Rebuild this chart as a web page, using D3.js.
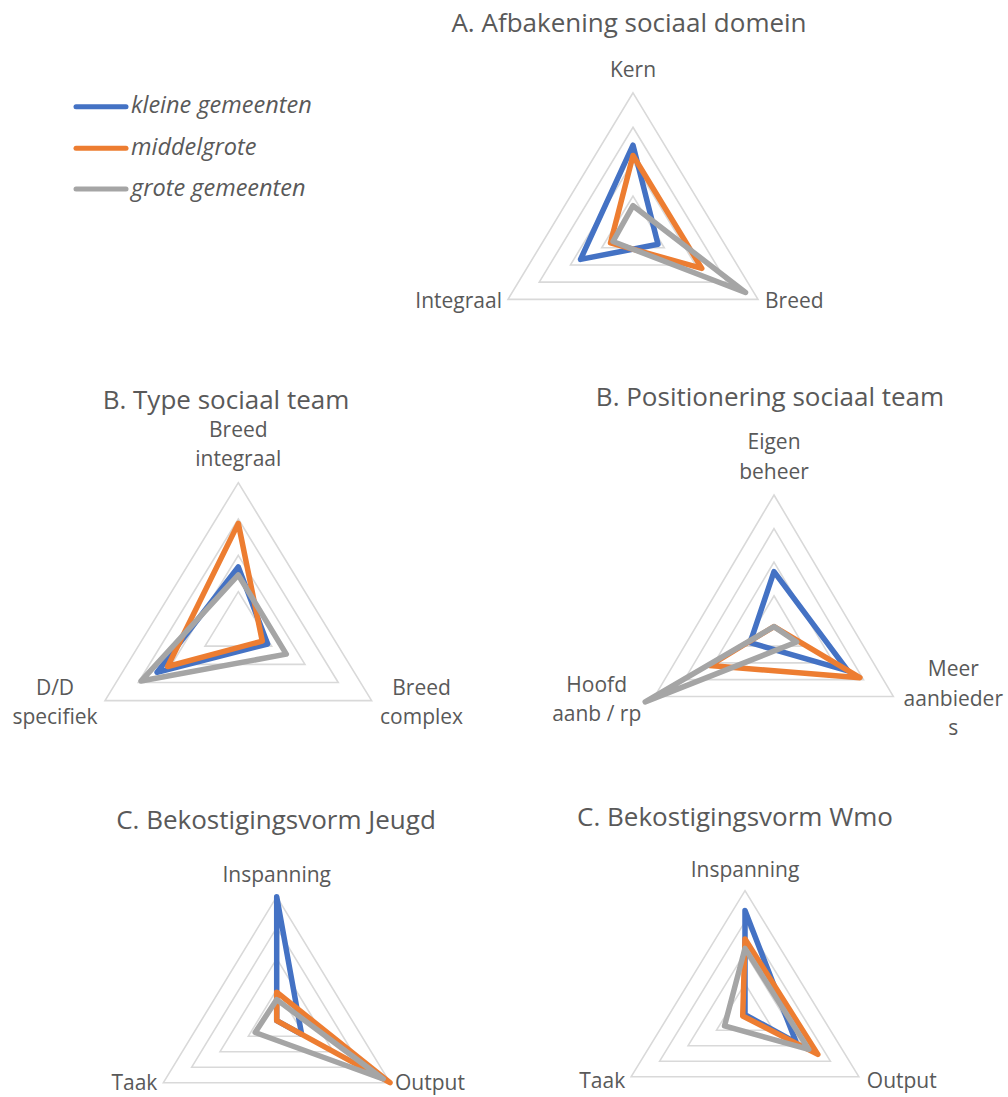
<!DOCTYPE html>
<html>
<head>
<meta charset="utf-8">
<script src="https://cdn.jsdelivr.net/npm/d3@7/dist/d3.min.js"></script>
<style>
  html, body { margin: 0; padding: 0; background: #ffffff; }
  svg { display: block; }
  text { font-family: "Open Sans", "Noto Sans", sans-serif; fill: #595959; }
</style>
</head>
<body>
<svg id="chart" width="1008" height="1097"></svg>
<script>
// ---------- DATA ----------
const seriesNames = ["kleine gemeenten", "middelgrote", "grote gemeenten"];
const chartTitles = [
  "A. Afbakening sociaal domein",
  "B. Type sociaal team",
  "B. Positionering sociaal team",
  "C. Bekostigingsvorm Jeugd",
  "C. Bekostigingsvorm Wmo"
];
// axis order per chart: top, bottom-right, bottom-left (each label may wrap into lines)
const axisLabels = [
  [["Kern"], ["Breed"], ["Integraal"]],
  [["Breed", "integraal"], ["Breed", "complex"], ["D/D", "specifiek"]],
  [["Eigen", "beheer"], ["Meer", "aanbieder", "s"], ["Hoofd", "aanb / rp"]],
  [["Inspanning"], ["Output"], ["Taak"]],
  [["Inspanning"], ["Output"], ["Taak"]]
];
// values as share of the outer ring (0 = centre, 1 = outer ring)
const kleineValues      = [[0.62, 0.20, 0.42], [0.42, 0.22, 0.61], [0.43, 0.62, 0.20], [1.00, 0.22, 0.00], [0.84, 0.45, 0.00]];
const middelgroteValues = [[0.545, 0.55, 0.18], [0.72, 0.18, 0.53], [0.02, 0.72, 0.54], [0.23, 1.00, 0.00], [0.61, 0.64, 0.02]];
const groteValues       = [[0.18, 0.90, 0.16], [0.365, 0.36, 0.73], [0.02, 0.19, 1.08], [0.17, 0.94, 0.19], [0.535, 0.56, 0.18]];
const ringTicks = [0.25, 0.5, 0.75, 1];

// ---------- LAYOUT / STYLE ----------
const seriesColors = ["#4472C4", "#ED7D31", "#A5A5A5"];
const seriesValues = [kleineValues, middelgroteValues, groteValues];
const layouts = [
  { cx: 633,   cy: 230.5,  R: 137.7, half: 125,   title: [629, 31.5],
    lab: [{dx: 0, dy: -16, a: "middle"}, {dx: 7, dy: 9, a: "start"}, {dx: -6, dy: 9, a: "end"}] },
  { cx: 238.3, cy: 628,    R: 145.3, half: 133.3, title: [226, 409],
    lab: [{dx: 0, dy: -46, a: "middle"}, {dx: 50, dy: -6, a: "middle"}, {dx: -50, dy: -6, a: "middle"}] },
  { cx: 774,   cy: 629.3,  R: 134.3, half: 119.3, title: [770, 406],
    lab: [{dx: 0, dy: -46, a: "middle"}, {dx: 60, dy: -20, a: "middle"}, {dx: -58, dy: -4.5, a: "middle"}] },
  { cx: 276.7, cy: 1020.7, R: 124,   half: 113.3, title: [276, 829],
    lab: [{dx: 0, dy: -15, a: "middle"}, {dx: 5, dy: 7, a: "start"}, {dx: -6, dy: 7, a: "end"}] },
  { cx: 745,   cy: 1014.7, R: 124,   half: 113.8, title: [735, 826],
    lab: [{dx: 0, dy: -14, a: "middle"}, {dx: 8, dy: 11, a: "start"}, {dx: -6, dy: 11, a: "end"}] }
];
const lineHeight = 29.5;
const angles = [0, 2 * Math.PI / 3, 4 * Math.PI / 3];

const svg = d3.select("#chart");

chartTitles.forEach((title, ci) => {
  const L = layouts[ci];
  const r = d3.scaleLinear().domain([0, 1]).range([0, L.R]);
  const sx = L.half / (L.R * Math.sin(Math.PI / 3));
  const pt = (v, k) => [L.cx + r(v) * Math.sin(angles[k]) * sx, L.cy - r(v) * Math.cos(angles[k])];
  const lineGen = d3.line().curve(d3.curveLinearClosed);
  const g = svg.append("g");

  // grid rings
  g.selectAll("path.ring").data(ringTicks).join("path")
    .attr("class", "ring")
    .attr("d", t => lineGen([0, 1, 2].map(k => pt(t, k))))
    .attr("fill", "none").attr("stroke", "#D9D9D9").attr("stroke-width", 1.6);

  // series
  seriesValues.forEach((vals, si) => {
    g.append("path")
      .attr("d", lineGen(vals[ci].map((v, k) => pt(v, k))))
      .attr("fill", "none")
      .attr("stroke", seriesColors[si])
      .attr("stroke-width", 5.5)
      .attr("stroke-linejoin", "round");
  });

  // title
  svg.append("text")
    .attr("x", L.title[0]).attr("y", L.title[1])
    .attr("text-anchor", "middle")
    .style("font-size", "26px")
    .text(title);

  // axis labels
  axisLabels[ci].forEach((lines, k) => {
    const [vx, vy] = pt(1, k);
    const o = L.lab[k];
    const t = svg.append("text")
      .attr("text-anchor", o.a)
      .style("font-size", "21px");
    lines.forEach((ln, li) => {
      t.append("tspan")
        .attr("x", vx + o.dx)
        .attr("y", vy + o.dy + li * lineHeight)
        .text(ln);
    });
  });
});

// legend
const legend = svg.append("g");
const legendY = [106.7, 148.3, 189];
seriesNames.forEach((name, i) => {
  legend.append("line")
    .attr("x1", 76).attr("x2", 126)
    .attr("y1", legendY[i]).attr("y2", legendY[i])
    .attr("stroke", seriesColors[i]).attr("stroke-width", 5)
    .attr("stroke-linecap", "round");
  legend.append("text")
    .attr("x", 131).attr("y", legendY[i] + 6.5)
    .style("font-size", "23.5px").style("font-style", "italic")
    .text(name);
});
</script>
</body>
</html>
